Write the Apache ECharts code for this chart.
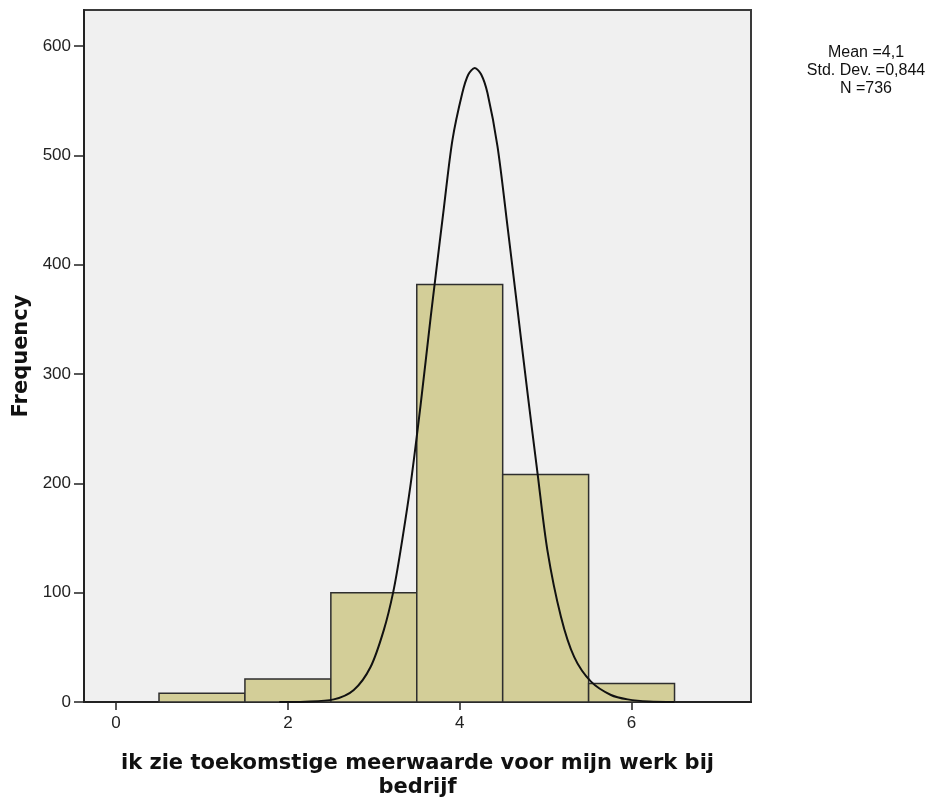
<!DOCTYPE html>
<html>
<head>
<meta charset="utf-8">
<script src="https://cdn.jsdelivr.net/npm/echarts@6/dist/echarts.min.js"></script>
<style>
  html, body { margin: 0; padding: 0; background: #ffffff; }
  #chart { width: 942px; height: 807px; }
</style>
</head>
<body>
<div id="chart"></div>
<script>
// Histogram bins (bin centre) and frequencies
const binCenters = [1, 2, 3, 4, 5, 6];
const frequencies = [8, 21, 100, 382, 208, 17];

// Normal curve
const curveX = [1.9, 2.2, 2.534, 2.767, 2.962, 3.117, 3.227, 3.31, 3.43, 3.545, 3.662, 3.72, 3.817, 3.915, 4.03, 4.1, 4.175, 4.25, 4.323, 4.44, 4.556, 4.653, 4.79, 4.906, 5.02, 5.178, 5.333, 5.528, 5.76, 5.955, 6.2, 6.5];
const curveY = [0, 0.3, 2.4, 11, 32, 66, 101, 138, 200, 272, 352, 390, 453, 514, 557, 574, 580, 574, 557, 508, 435, 372, 282, 209, 139, 78, 41, 18.6, 6.4, 2.4, 0.4, 0];

// Tick labels
const xTicks = [0, 2, 4, 6];
const yTicks = [0, 100, 200, 300, 400, 500, 600];

// Texts
const xTitle = 'ik zie toekomstige meerwaarde voor mijn werk bij\nbedrijf';
const yTitle = 'Frequency';
const statsLines = ['Mean =4,1', 'Std. Dev. =0,844', 'N =736'];

const chart = echarts.init(document.getElementById('chart'), null, { renderer: 'canvas' });

const barData = binCenters.map((c, i) => [c, frequencies[i]]);
const curveData = curveX.map((x, i) => [x, curveY[i]]);

const option = {
  backgroundColor: '#ffffff',
  animation: false,
  grid: {
    left: 84, right: 191, top: 10, bottom: 105,
    show: true,
    backgroundColor: '#f0f0f0',
    borderColor: '#3a3a3a',
    borderWidth: 2
  },
  xAxis: {
    type: 'value',
    min: -0.373,
    max: 7.39,
    splitLine: { show: false },
    axisLine: { show: true, onZero: false, lineStyle: { color: '#222', width: 2 } },
    axisTick: { show: true, customValues: xTicks, length: 8, lineStyle: { color: '#222', width: 1.5 } },
    axisLabel: {
      customValues: xTicks,
      color: '#222',
      fontFamily: 'Liberation Sans',
      fontSize: 17,
      margin: 13
    },
    name: xTitle,
    nameLocation: 'middle',
    nameGap: 50,
    nameTextStyle: {
      fontFamily: 'DejaVu Sans',
      fontWeight: 'bold',
      fontSize: 21,
      color: '#111',
      lineHeight: 24,
      align: 'center',
      verticalAlign: 'top'
    }
  },
  yAxis: {
    type: 'value',
    min: 0,
    max: 633,
    splitLine: { show: false },
    axisLine: { show: true, onZero: false, lineStyle: { color: '#222', width: 2 } },
    axisTick: { show: true, customValues: yTicks, length: 10, lineStyle: { color: '#222', width: 1.5 } },
    axisLabel: {
      customValues: yTicks,
      color: '#222',
      fontFamily: 'Liberation Sans',
      fontSize: 17,
      margin: 13
    },
    name: yTitle,
    nameLocation: 'middle',
    nameGap: 50,
    nameRotate: 90,
    nameTextStyle: {
      fontFamily: 'DejaVu Sans',
      fontWeight: 'bold',
      fontSize: 21,
      color: '#111'
    }
  },
  series: [
    {
      type: 'custom',
      name: 'Histogram',
      data: barData,
      encode: { x: 0, y: 1 },
      z: 2,
      renderItem: function (params, api) {
        const c = api.value(0);
        const v = api.value(1);
        const p0 = api.coord([c - 0.5, v]);
        const p1 = api.coord([c + 0.5, 0]);
        return {
          type: 'rect',
          shape: { x: p0[0], y: p0[1], width: p1[0] - p0[0], height: p1[1] - p0[1] },
          style: { fill: '#d3ce98', stroke: '#2e2e2e', lineWidth: 1.5 }
        };
      }
    },
    {
      type: 'line',
      name: 'Normal',
      data: curveData,
      smooth: 0.3,
      showSymbol: false,
      symbol: 'none',
      z: 3,
      lineStyle: { color: '#111', width: 2 }
    }
  ],
  graphic: statsLines.map((t, i) => ({
    type: 'text',
    x: 866,
    y: 53 + i * 18,
    style: {
      text: t,
      fill: '#111',
      font: '16px "Liberation Sans"',
      align: 'center',
      verticalAlign: 'middle'
    }
  }))
};

chart.setOption(option);
</script>
</body>
</html>
